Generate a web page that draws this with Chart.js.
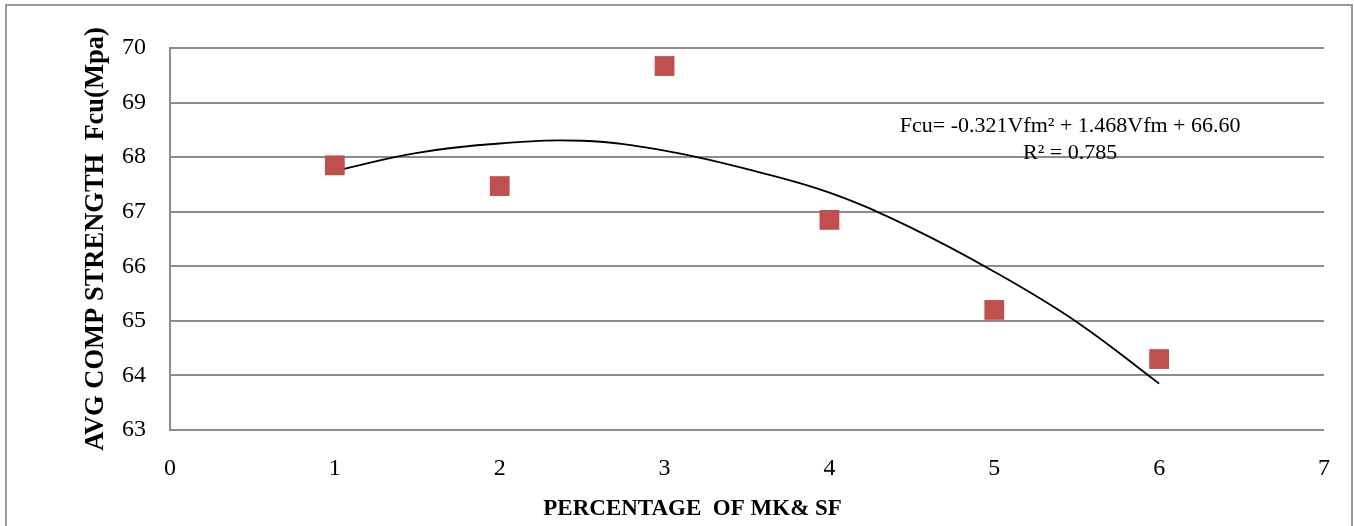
<!DOCTYPE html>
<html>
<head>
<meta charset="utf-8">
<script src="https://cdn.jsdelivr.net/npm/chart.js@4/dist/chart.umd.min.js"></script>
<style>
html,body{margin:0;padding:0;background:#fff;}
#wrap{width:1354px;height:526px;position:relative;}
</style>
</head>
<body>
<div id="wrap"><canvas id="c" width="1354" height="526"></canvas></div>
<script>
// Data
const percentages = [1, 2, 3, 4, 5, 6];
const strengths = [67.85, 67.47, 69.67, 66.85, 65.2, 64.3];
// Trendline
const trendX = [1, 1.5, 2, 2.5, 3, 3.5, 4, 4.5, 5, 5.5, 6];
const trendY = [67.75, 68.08, 68.25, 68.30, 68.12, 67.78, 67.35, 66.70, 65.90, 64.98, 63.85];
const yTicks = [63, 64, 65, 66, 67, 68, 69, 70];
const xTicks = [0, 1, 2, 3, 4, 5, 6, 7];
const equationText = 'Fcu= -0.321Vfm\u00B2 + 1.468Vfm + 66.60';
const r2Text = 'R\u00B2 = 0.785';
const xTitle = 'PERCENTAGE  OF MK& SF';
const yTitle = 'AVG COMP STRENGTH  Fcu(Mpa)';

const scatterPts = percentages.map((x, i) => ({x: x, y: strengths[i]}));
const trendPts = trendX.map((x, i) => ({x: x, y: trendY[i]}));

const decor = {
  id: 'decor',
  afterDraw(chart) {
    const ctx = chart.ctx;
    const xs = chart.scales.x, ys = chart.scales.y;
    ctx.save();
    // outer border
    ctx.strokeStyle = '#999';
    ctx.lineWidth = 2;
    ctx.beginPath();
    ctx.moveTo(6, 530); ctx.lineTo(6, 5); ctx.lineTo(1352, 5); ctx.lineTo(1352, 530);
    ctx.stroke();
    // equation text
    ctx.fillStyle = '#000';
    ctx.textAlign = 'center';
    ctx.textBaseline = 'middle';
    ctx.font = '22px "Liberation Serif"';
    const cx = xs.getPixelForValue(5.46);
    ctx.fillText(equationText, cx, ys.getPixelForValue(68.57));
    ctx.fillText(r2Text, cx, ys.getPixelForValue(68.07));
    // x title
    ctx.font = 'bold 23px "Liberation Serif"';
    ctx.fillText(xTitle, xs.getPixelForValue(3.17), 509);
    ctx.restore();
  }
};

new Chart(document.getElementById('c'), {
  type: 'scatter',
  data: {
    datasets: [
      {
        label: 'Trend',
        type: 'line',
        data: trendPts,
        borderColor: '#000',
        borderWidth: 1.8,
        pointRadius: 0,
        tension: 0.4,
        fill: false,
        order: 2
      },
      {
        label: 'Strength',
        data: scatterPts,
        pointStyle: 'rect',
        pointRadius: 14,
        backgroundColor: '#C0504D',
        borderColor: '#C0504D',
        borderWidth: 0,
        order: 1
      }
    ]
  },
  options: {
    responsive: false,
    animation: false,
    devicePixelRatio: 1,
    layout: {padding: {left: 0, right: 29, top: 48, bottom: 0}},
    plugins: {legend: {display: false}, tooltip: {enabled: false}},
    scales: {
      x: {
        type: 'linear',
        min: 0, max: 7,
        afterBuildTicks(s) { s.ticks = xTicks.map(v => ({value: v})); },
        afterFit(s) { s.height = 96; },
        grid: {display: false, drawTicks: false},
        border: {display: false},
        ticks: {
          padding: 24,
          color: '#000',
          font: {family: '"Liberation Serif"', size: 24}
        }
      },
      y: {
        type: 'linear',
        min: 63, max: 70,
        afterBuildTicks(s) { s.ticks = yTicks.map(v => ({value: v})); },
        afterFit(s) { s.width = 170; },
        grid: {color: '#8c8c8c', lineWidth: 2, drawTicks: false},
        border: {display: true, color: '#8c8c8c', width: 2},
        ticks: {
          padding: 24,
          color: '#000',
          font: {family: '"Liberation Serif"', size: 24}
        },
        title: {
          display: true,
          text: yTitle,
          color: '#000',
          font: {family: '"Liberation Serif"', size: 26.5, weight: 'bold'},
          padding: {top: 80, bottom: 0}
        }
      }
    }
  },
  plugins: [decor]
});
</script>
</body>
</html>
